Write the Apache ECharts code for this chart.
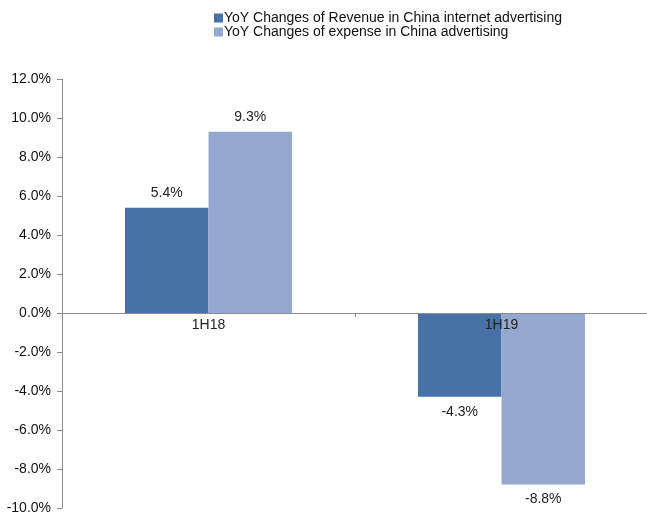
<!DOCTYPE html>
<html><head><meta charset="utf-8">
<script src="https://cdn.jsdelivr.net/npm/echarts@6/dist/echarts.min.js"></script>
<style>html,body{margin:0;padding:0;background:#fff}#c{width:647px;height:519px}</style>
</head><body><div id="c"></div>
<script>
const categories = ['1H18', '1H19'];
const revenueNames = 'YoY Changes of Revenue in China internet advertising';
const expenseNames = 'YoY Changes of expense in China advertising';
const revenueValues = [5.4, -4.3];
const expenseValues = [9.3, -8.8];
const yTicks = {min: -10, max: 12, interval: 2};

const font = 'Liberation Sans, Arial, sans-serif';
const W = 647, H = 519;
const grid = {left: 62, right: -1, top: 79, bottom: 11};
const gridH = H - grid.top - grid.bottom;
const zeroOffset = -gridH * (0 - yTicks.min) / (yTicks.max - yTicks.min);

const chart = echarts.init(document.getElementById('c'), null, {renderer: 'canvas'});
function lbl(){
  return {show: true, fontFamily: font, fontSize: 14, color: '#222',
    position: 'top', distance: 8,
    formatter: p => p.value.toFixed(1) + '%'};
}
function mk(vals){
  return vals.map(v => ({value: v, label: {position: v < 0 ? 'bottom' : 'top'}}));
}
chart.setOption({
  animation: false,
  legend: {
    orient: 'vertical', left: 209, top: 6, itemWidth: 9, itemHeight: 9, itemGap: 0,
    icon: 'rect',
    textStyle: {fontFamily: font, fontSize: 14, color: '#111', padding: [0,0,0,-4]},
    data: [revenueNames, expenseNames]
  },
  grid: Object.assign({outerBoundsMode: 'none', containLabel: false}, grid),
  xAxis: {
    type: 'category', data: categories, z: 10, position: 'bottom', offset: zeroOffset,
    axisLine: {onZero: false, lineStyle: {color: '#8c8c8c', width: 1}},
    axisTick: {show: true, length: 4, lineStyle: {color: '#8c8c8c'}},
    axisLabel: {fontFamily: font, fontSize: 14, color: '#222', margin: 5}
  },
  yAxis: {
    type: 'value', min: yTicks.min, max: yTicks.max, interval: yTicks.interval,
    splitLine: {show: false},
    axisLine: {show: true, lineStyle: {color: '#8c8c8c'}},
    axisTick: {show: true, length: 5, lineStyle: {color: '#8c8c8c'}},
    axisLabel: {fontFamily: font, fontSize: 14, color: '#111', margin: 11,
      formatter: v => v.toFixed(1) + '%'}
  },
  series: [
    {name: revenueNames, type: 'bar', data: mk(revenueValues), barGap: '0%', barCategoryGap: '43%',
     itemStyle: {color: '#4672a8'}, label: lbl()},
    {name: expenseNames, type: 'bar', data: mk(expenseValues), barGap: '0%', barCategoryGap: '43%',
     itemStyle: {color: '#95a9d0'}, label: lbl()}
  ]
});
</script></body></html>
